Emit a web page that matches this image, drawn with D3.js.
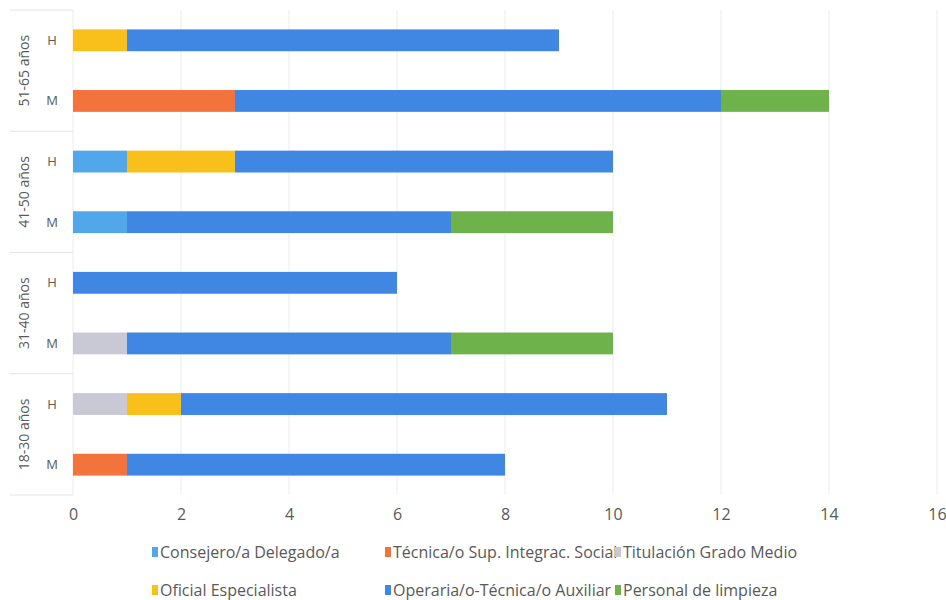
<!DOCTYPE html>
<html>
<head>
<meta charset="utf-8">
<script src="https://cdn.jsdelivr.net/npm/d3@7"></script>
<style>
  html, body { margin: 0; padding: 0; background: #fff; }
  svg { display: block; }
  text { font-family: "Open Sans", sans-serif; fill: #595959; }
</style>
</head>
<body>
<svg id="chart" width="946" height="600"></svg>
<script>
// Age groups (top to bottom) and sex within each group
const ageGroups = ["51-65 años", "41-50 años", "31-40 años", "18-30 años"];
const sexes = ["H", "M"];

// Job categories, in stacking order
const categories = [
  "Consejero/a Delegado/a",
  "Técnica/o Sup. Integrac. Social",
  "Titulación Grado Medio",
  "Oficial Especialista",
  "Operaria/o-Técnica/o Auxiliar",
  "Personal de limpieza"
];
const colors = ["#52a7ea", "#f2743c", "#c9c9d6", "#f9bf1a", "#3f87e3", "#6db24a"];

// Headcount per row (age group + sex), one value per category
const rowKeys = [
  "51-65 años|H", "51-65 años|M",
  "41-50 años|H", "41-50 años|M",
  "31-40 años|H", "31-40 años|M",
  "18-30 años|H", "18-30 años|M"
];
const consejero   = [0, 0, 1, 1, 0, 0, 0, 0];
const tecnicaSup  = [0, 3, 0, 0, 0, 0, 0, 1];
const titulacion  = [0, 0, 0, 0, 0, 1, 1, 0];
const oficial     = [1, 0, 2, 0, 0, 0, 1, 0];
const operaria    = [8, 9, 7, 6, 6, 6, 9, 7];
const limpieza    = [0, 2, 0, 3, 0, 3, 0, 0];
const seriesValues = [consejero, tecnicaSup, titulacion, oficial, operaria, limpieza];

const xTicks = [0, 2, 4, 6, 8, 10, 12, 14, 16];

const svg = d3.select("#chart");
const margin = { top: 10, left: 73, right: 9, bottom: 105 };
const W = 946, H = 600;
const plotBottom = H - margin.bottom;

const x = d3.scaleLinear().domain([0, 16]).range([margin.left, W - margin.right]);
const y = d3.scaleBand().domain(rowKeys).range([margin.top, plotBottom]).paddingInner(0.64).paddingOuter(0.32);

// Table of rows for the stack layout
const table = rowKeys.map((k, i) => {
  const row = { key: k };
  categories.forEach((c, j) => row[c] = seriesValues[j][i]);
  return row;
});
const stacked = d3.stack().keys(categories)(table);

// Vertical gridlines
svg.append("g")
  .selectAll("line")
  .data(xTicks)
  .join("line")
  .attr("x1", d => x(d)).attr("x2", d => x(d))
  .attr("y1", margin.top).attr("y2", plotBottom)
  .attr("stroke", "#ececec").attr("stroke-width", 1);

// Stacked bars
svg.append("g")
  .selectAll("g")
  .data(stacked)
  .join("g")
  .attr("fill", (d, i) => colors[i])
  .selectAll("rect")
  .data(d => d.filter(s => s[1] - s[0] > 0))
  .join("rect")
  .attr("x", d => x(d[0]))
  .attr("width", d => x(d[1]) - x(d[0]))
  .attr("y", d => y(d.data.key))
  .attr("height", y.bandwidth());

// X axis tick labels
const xAxis = d3.axisBottom(x).tickValues(xTicks).tickSize(0).tickPadding(14);
const gx = svg.append("g").attr("transform", `translate(0,${plotBottom})`).call(xAxis);
gx.select(".domain").remove();
gx.selectAll("text").style("font-size", "16px").attr("fill", "#595959")
  .style("font-family", "'Open Sans', sans-serif");

// Sex labels (H / M)
svg.append("g")
  .selectAll("text")
  .data(rowKeys)
  .join("text")
  .attr("x", 52)
  .attr("y", d => y(d) + y.bandwidth() / 2)
  .attr("dy", "0.35em")
  .attr("text-anchor", "middle")
  .style("font-size", "13px")
  .text(d => d.split("|")[1]);

// Group separators and rotated age-group labels
const bounds = d3.range(ageGroups.length + 1)
  .map(i => margin.top + i * (plotBottom - margin.top) / ageGroups.length);
svg.append("g")
  .selectAll("line")
  .data(bounds)
  .join("line")
  .attr("x1", 10).attr("x2", margin.left)
  .attr("y1", d => d).attr("y2", d => d)
  .attr("stroke", "#e3e3e3").attr("stroke-width", 1);

svg.append("g")
  .selectAll("text")
  .data(ageGroups)
  .join("text")
  .attr("transform", (d, i) => `translate(24,${(bounds[i] + bounds[i + 1]) / 2}) rotate(-90)`)
  .attr("text-anchor", "middle")
  .attr("dy", "0.35em")
  .style("font-size", "14px")
  .text(d => d);

// Legend: two rows of three
const legendX = [152, 385, 615];
const legendY = [552, 590];
const legend = svg.append("g")
  .selectAll("g")
  .data(categories)
  .join("g")
  .attr("transform", (d, i) => `translate(${legendX[i % 3]},${legendY[Math.floor(i / 3)]})`);
legend.append("rect")
  .attr("x", 0).attr("y", -5).attr("width", 6).attr("height", 10)
  .attr("fill", (d, i) => colors[i]);
legend.append("text")
  .attr("x", 8).attr("dy", "0.35em")
  .style("font-size", "16px")
  .text(d => d);
</script>
</body>
</html>
